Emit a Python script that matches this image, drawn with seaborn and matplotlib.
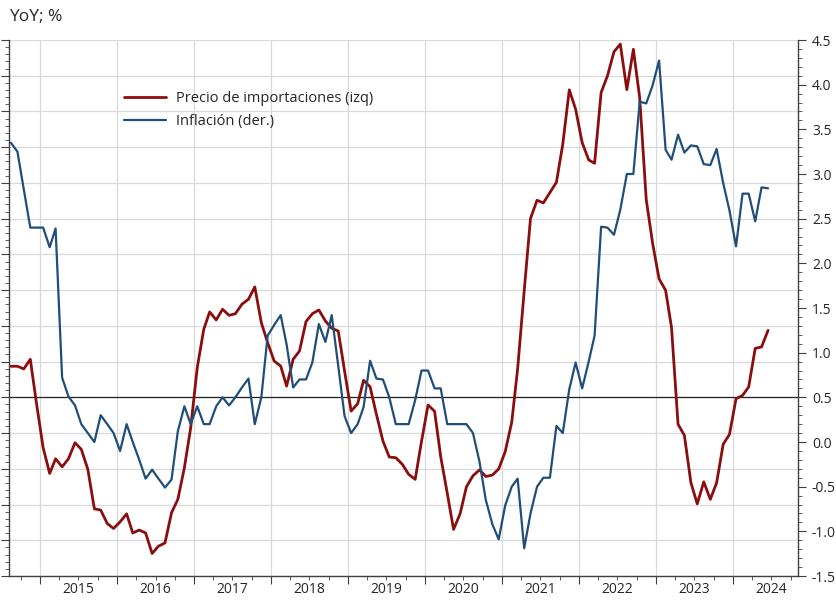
import pandas as pd
import matplotlib
matplotlib.use("Agg")
import matplotlib.pyplot as plt
import matplotlib.dates as mdates
from matplotlib.ticker import MultipleLocator, NullFormatter, FuncFormatter
import seaborn as sns

# monthly points, Aug 2014 .. Jun 2024
start_month = "2014-08-01"
n_months = 119

# import prices yoy (left axis, labels hidden in the original)
import_prices = [
    1.74, 1.74, 1.59, 2.13, -0.39, -2.82, -4.26, -3.44, -3.89, -3.44,
    -2.54, -2.91, -4.03, -6.24, -6.31, -7.06, -7.34, -6.97, -6.52, -7.59,
    -7.43, -7.59, -8.74, -8.33, -8.15, -6.46, -5.71, -3.94, -1.70, 1.66,
    3.81, 4.78, 4.33, 4.93, 4.59, 4.68, 5.21, 5.49, 6.18, 4.18,
    3.06, 2.03, 1.75, 0.63, 2.13, 2.59, 4.24, 4.68, 4.89, 4.27,
    3.87, 3.71, 1.47, -0.77, -0.36, 0.95, 0.59, -0.95, -2.45, -3.34,
    -3.38, -3.75, -4.31, -4.59, -2.46, -0.43, -0.78, -3.32, -5.36, -7.39,
    -6.52, -5.01, -4.39, -4.06, -4.43, -4.35, -4.01, -3.04, -1.39, 1.60,
    5.95, 10.01, 11.03, 10.88, 11.46, 12.04, 14.16, 17.21, 16.13, 14.26,
    13.29, 13.10, 17.06, 17.99, 19.34, 19.77, 17.22, 19.48, 16.77, 11.07,
    8.64, 6.63, 5.99, 3.90, -1.51, -2.13, -4.78, -5.96, -4.73, -5.71,
    -4.78, -2.63, -2.07, -0.08, 0.11, 0.58, 2.74, 2.82, 3.75,
]

# inflation yoy (right axis)
inflation = [
    3.35, 3.25, 2.83, 2.40, 2.40, 2.40, 2.18, 2.39, 0.72, 0.51,
    0.41, 0.20, 0.10, 0.00, 0.30, 0.20, 0.10, -0.10, 0.20, 0.00,
    -0.20, -0.41, -0.31, -0.41, -0.51, -0.42, 0.12, 0.40, 0.20, 0.40,
    0.20, 0.20, 0.40, 0.50, 0.41, 0.50, 0.61, 0.71, 0.20, 0.50,
    1.19, 1.31, 1.42, 1.09, 0.61, 0.70, 0.70, 0.89, 1.32, 1.12,
    1.42, 0.85, 0.29, 0.10, 0.20, 0.39, 0.91, 0.71, 0.70, 0.50,
    0.20, 0.20, 0.20, 0.47, 0.80, 0.80, 0.60, 0.60, 0.20, 0.20,
    0.20, 0.20, 0.10, -0.22, -0.65, -0.92, -1.09, -0.71, -0.50, -0.41,
    -1.19, -0.80, -0.50, -0.40, -0.40, 0.18, 0.10, 0.59, 0.89, 0.60,
    0.90, 1.19, 2.41, 2.40, 2.32, 2.60, 3.00, 3.00, 3.81, 3.79,
    3.99, 4.27, 3.27, 3.16, 3.44, 3.24, 3.32, 3.31, 3.11, 3.10,
    3.28, 2.90, 2.59, 2.19, 2.78, 2.78, 2.47, 2.85, 2.84,
]

label_imp = "Precio de importaciones (izq)"
label_inf = "Inflación (der.)"

dates = pd.date_range(start_month, periods=n_months, freq="MS") + pd.Timedelta(days=14)
df = pd.DataFrame({"fecha": dates, "imp": import_prices, "inf": inflation})

sns.set_style("white")
plt.rcParams["font.family"] = ["Open Sans", "DejaVu Sans"]

red = "#8B0E0E"
blue = "#1F4E79"
spine_col = "#404040"

fig = plt.figure(figsize=(8.37, 6.01), dpi=100)
ax = fig.add_axes([9 / 837, 1 - 576 / 601, 789 / 837, 536 / 601])
ax2 = ax.twinx()

sns.lineplot(data=df, x="fecha", y="imp", ax=ax, color=red, linewidth=2.0, label=label_imp, legend=False)
sns.lineplot(data=df, x="fecha", y="inf", ax=ax2, color=blue, linewidth=1.6, label=label_inf, legend=False)

ax.axhline(0, color="#222222", linewidth=0.9, zorder=1.5)

# left axis: scale kept but no labels
ax.set_ylim(-10, 20)
ax.yaxis.set_major_locator(MultipleLocator(2))
ax.yaxis.set_minor_locator(MultipleLocator(0.4))
ax.yaxis.set_major_formatter(NullFormatter())

ax2.set_ylim(-1.5, 4.5)
ax2.yaxis.set_major_locator(MultipleLocator(0.5))
ax2.yaxis.set_minor_locator(MultipleLocator(0.1))
ax2.yaxis.set_major_formatter(FuncFormatter(lambda v, p: f"{v:.1f}"))

ax.set_xlim(pd.Timestamp("2014-08-06"), pd.Timestamp("2024-11-04"))
ax.xaxis.set_major_locator(mdates.YearLocator())
ax.xaxis.set_major_formatter(NullFormatter())
ax.xaxis.set_minor_locator(mdates.MonthLocator(bymonth=[1, 4, 7, 10]))
ax.xaxis.set_minor_formatter(FuncFormatter(
    lambda v, p: str(mdates.num2date(v).year) if mdates.num2date(v).month == 7 else ""))

ax.grid(axis="both", which="major", color="#d9d9d9", linewidth=0.9)
ax.set_axisbelow(True)

for a in (ax, ax2):
    a.set_xlabel("")
    a.set_ylabel("")
    a.spines["top"].set_visible(False)
    for s in ("left", "right", "bottom"):
        a.spines[s].set_color(spine_col)
        a.spines[s].set_linewidth(1.0)

ax.spines["right"].set_visible(False)
ax2.spines["left"].set_visible(False)
ax2.spines["bottom"].set_visible(False)

ax.tick_params(axis="y", which="major", direction="out", length=6, color=spine_col, left=True)
ax.tick_params(axis="y", which="minor", direction="out", length=3, color=spine_col, left=True)
ax.tick_params(axis="x", which="major", direction="out", length=6, color=spine_col, bottom=True)
ax.tick_params(axis="x", which="minor", direction="out", length=3, color=spine_col, bottom=True,
               labelsize=10, labelcolor="#262626", pad=1)
ax2.tick_params(axis="y", which="major", direction="out", length=6, color=spine_col, right=True,
                labelsize=10, labelcolor="#262626", pad=4)
ax2.tick_params(axis="y", which="minor", direction="out", length=3, color=spine_col, right=True)

fig.text(9 / 837, 1 - 17 / 601, "YoY; %", fontsize=12.5, color="#262626", va="center", ha="left")

handles = ax.get_lines()[:1] + ax2.get_lines()[:1]
fig.legend(handles, [label_imp, label_inf], loc="upper left", bbox_to_anchor=(0.148, 0.848),
           frameon=False, fontsize=10.5, handlelength=2.9, handletextpad=0.7,
           labelspacing=0.55, borderpad=0, borderaxespad=0)

fig.savefig("out.png", dpi=100)
